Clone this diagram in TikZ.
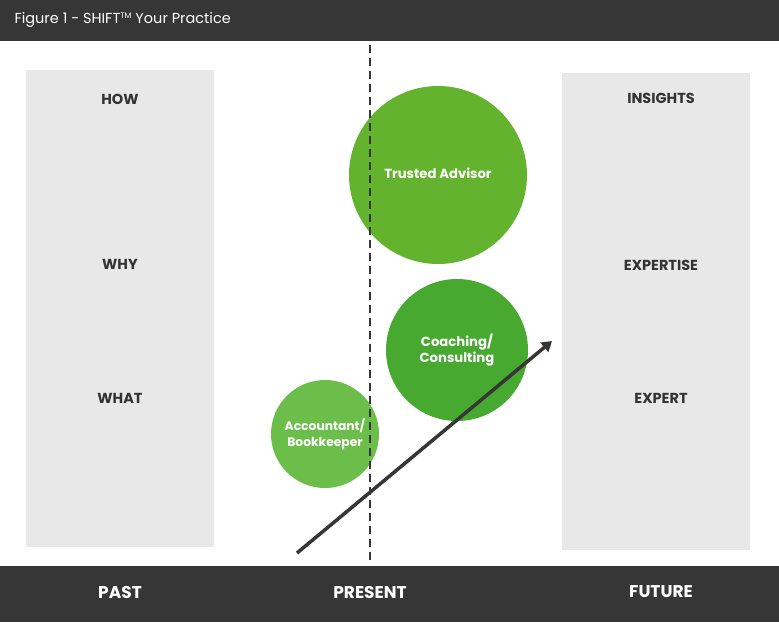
\documentclass[tikz,border=0pt]{standalone}
\usepackage{fontspec}
\setmainfont{Poppins}
\usetikzlibrary{arrows.meta}
\definecolor{barcol}{HTML}{363636}
\definecolor{panelcol}{HTML}{E8E8E8}
\definecolor{labelcol}{HTML}{333333}
\definecolor{greenA}{HTML}{64B32E}
\definecolor{greenB}{HTML}{47A92F}
\definecolor{greenC}{HTML}{6CBE4A}
\tikzset{
  rowlabel/.style={text=labelcol, font=\fontsize{14.5}{17}\selectfont\bfseries},
  barlabel/.style={text=white, font=\fontsize{17}{20}\selectfont\bfseries},
  bubble/.style={circle, text=white, align=center, inner sep=0pt,
    font=\fontsize{13.2}{15.5}\selectfont\bfseries},
}
\begin{document}
\begin{tikzpicture}[x=1pt,y=-1pt]
                \useasboundingbox (0,0) rectangle (779,622);
                % bars and panels
                \fill[barcol] (0,0) rectangle (779,41);
                \fill[barcol] (0,566) rectangle (779,622);
                \fill[panelcol] (26,70) rectangle (214,547);
                \fill[panelcol] (562,73) rectangle (750,550);
                \node[anchor=west, text=white, font=\fontsize{14.5}{17}\selectfont] (title) at (11,20) {Figure 1 - SHIFT{\fontsize{8}{8}\selectfont\raisebox{5pt}{TM}} Your Practice};
                \foreach \name/\y/\label in {how/99/HOW, why/264/WHY, what/398/WHAT}
                \node[rowlabel] (\name) at (120,\y) {\label};
                \foreach \name/\y/\label in {insights/98/INSIGHTS, expertise/265/EXPERTISE, expert/398/EXPERT}
                \node[rowlabel] (\name) at (661,\y) {\label};
                \foreach \name/\x/\label in {past/120/PAST, present/370/PRESENT, future/661/FUTURE}
                \node[barlabel] (\name) at (\x,592) {\label};
                % circles
                \node[bubble, fill=greenA, minimum size=178pt] (advisor) at (438,175) {\raisebox{3pt}{Trusted Advisor}};
                \node[bubble, fill=greenB, minimum size=142pt] (coaching) at (457,350) {Coaching/\\Consulting};
                \node[bubble, fill=greenC, minimum size=108pt, font=\fontsize{12.3}{16}\selectfont\bfseries] (accountant) at (325,434) {\\[-3pt]Accountant/\\Bookkeeper};
                % present line and growth arrow
                \coordinate (top) at (370,45);
                \coordinate (bottom) at (370,563);
                \draw[barcol, line width=2.5pt, dash pattern=on 8pt off 5pt] (top) -- (bottom);
                \coordinate (start) at (297,553);
                \coordinate (tip) at (552,341);
                \draw[barcol, line width=3.5pt, -{Triangle[length=10pt,width=12pt]}] (start) -- (tip);
            \end{tikzpicture}
\end{document}
